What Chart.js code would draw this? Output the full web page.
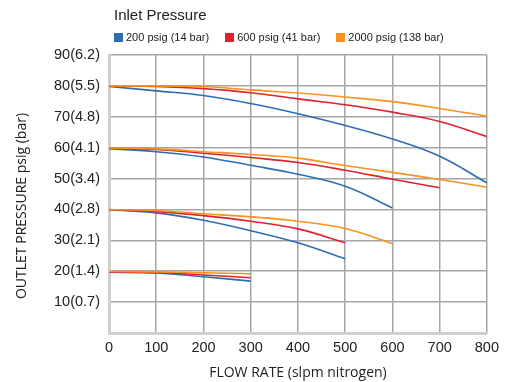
<!DOCTYPE html>
<html>
<head>
<meta charset="utf-8">
<script src="https://cdn.jsdelivr.net/npm/chart.js@4/dist/chart.umd.min.js"></script>
<style>
  html, body { margin: 0; padding: 0; background: #fff; }
  #wrap { position: relative; width: 505px; height: 382px; }
  #legend { position: absolute; left: 114px; top: 5px; font-family: "Liberation Sans", Arial, sans-serif; color: #222; }
  #legend .title { font-size: 15px; line-height: 20px; }
  #legend .items { display: flex; margin-top: 6px; font-size: 11px; line-height: 12px; }
  #legend .item { display: flex; align-items: center; margin-right: 16px; }
  #legend .sw { width: 9px; height: 9px; margin-right: 3px; }
</style>
</head>
<body>
<div id="wrap">
  <canvas id="c" width="505" height="382"></canvas>
  <div id="legend"></div>
</div>
<script>
'use strict';
// ---------- dane ----------
const flow = [0, 100, 200, 300, 400, 500, 600, 700, 800];
const inletLabels = ['200 psig (14 bar)', '600 psig (41 bar)', '2000 psig (138 bar)'];
const inletColors = ['#2f6db3', '#e0202f', '#f7931e'];
const yTickLabels = ['', '10(0.7)', '20(1.4)', '30(2.1)', '40(2.8)', '50(3.4)', '60(4.1)', '70(4.8)', '80(5.5)', '90(6.2)'];
const yTitle = 'OUTLET PRESSURE psig (bar)';

// set 80 psig
const p80_200 = [79.8, 78.4, 76.9, 74.3, 71.0, 67.2, 62.8, 57.2, 48.6];
const p80_600 = [80.0, 79.8, 79.1, 77.8, 75.8, 73.9, 71.5, 68.5, 63.6];
const p80_2000 = [80.0, 80.0, 79.8, 78.7, 77.7, 76.4, 74.9, 72.7, 70.2];
// set 60 psig
const p60_200 = [59.7, 58.7, 57.0, 54.3, 51.4, 47.5, 40.5];
const p60_600 = [59.8, 59.4, 58.2, 56.8, 55.2, 52.7, 49.8, 47.0];
const p60_2000 = [59.9, 59.6, 58.7, 57.8, 56.6, 54.2, 52.0, 49.7, 47.2];
// set 40 psig
const p40_200 = [39.9, 38.9, 36.5, 33.1, 29.2, 24.0];
const p40_600 = [40.0, 39.3, 38.0, 36.2, 33.7, 29.2];
const p40_2000 = [40.0, 39.6, 38.6, 37.6, 36.2, 33.8, 29.0];
// set 20 psig
const p20_200 = [19.7, 19.4, 18.2, 16.8];
const p20_600 = [19.8, 19.6, 18.8, 17.9];
const p20_2000 = [19.9, 19.8, 19.5, 19.2];

const series = [
  [p80_200, 0], [p80_600, 1], [p80_2000, 2],
  [p60_200, 0], [p60_600, 1], [p60_2000, 2],
  [p40_200, 0], [p40_600, 1], [p40_2000, 2],
  [p20_200, 0], [p20_600, 1], [p20_2000, 2],
];

// ---------- legenda (HTML) ----------
document.getElementById('legend').innerHTML =
  '<div class="title">Inlet Pressure</div><div class="items">' +
  inletLabels.map((l, i) =>
    `<div class="item"><span class="sw" style="background:${inletColors[i]}"></span>${l}</div>`).join('') +
  '</div>';

// ---------- wykres ----------
const datasets = series.map(([vals, g]) => ({
  label: inletLabels[g],
  data: vals.map((v, i) => ({ x: flow[i], y: v })),
  borderColor: inletColors[g], backgroundColor: inletColors[g],
  borderWidth: 1.6, pointRadius: 0, tension: 0.4, fill: false,
  order: 2 - g, // pomarańczowa na wierzchu
}));

const tickFont = { family: '"Liberation Sans", Arial, sans-serif', size: 14.5 };
const titleFont = { family: '"Open Sans", "Liberation Sans", sans-serif', size: 14 };

// tytuł osi Y rysowany ręcznie (w oryginale przesunięty w dół względem środka)
const yTitlePlugin = {
  id: 'yTitle',
  afterDraw(chart) {
    const ctx = chart.ctx;
    ctx.save();
    ctx.translate(22, 206);
    ctx.rotate(-Math.PI / 2);
    ctx.font = `${titleFont.size}px ${titleFont.family}`;
    ctx.fillStyle = '#222';
    ctx.textAlign = 'center';
    ctx.textBaseline = 'middle';
    ctx.fillText(yTitle, 0, 0);
    ctx.restore();
  },
};

new Chart(document.getElementById('c'), {
  type: 'line',
  data: { datasets },
  plugins: [yTitlePlugin],
  options: {
    responsive: false, animation: false,
    layout: { padding: { left: 10, right: 18, top: 55, bottom: 0 } },
    plugins: { legend: { display: false }, tooltip: { enabled: false } },
    scales: {
      x: {
        type: 'linear', min: 0, max: 800,
        afterFit: s => { s.height = 49; },
        ticks: { stepSize: 100, color: '#222', font: tickFont, padding: 6 },
        grid: { color: '#a6a6a6', lineWidth: 1.5, drawTicks: false },
        border: { color: '#cfcfcf', width: 3 },
        title: { display: true, text: 'FLOW RATE (slpm nitrogen)', color: '#222', font: titleFont,
                 padding: { top: 0, bottom: 1 } },
      },
      y: {
        min: 0, max: 90,
        afterFit: s => { s.width = 99; },
        ticks: { stepSize: 10, color: '#222', font: tickFont, padding: 9,
                 callback: v => yTickLabels[Math.round(v / 10)] },
        grid: { color: '#a6a6a6', lineWidth: 1.5, drawTicks: false },
        border: { color: '#cfcfcf', width: 3 },
      },
    },
  },
});
</script>
</body>
</html>
